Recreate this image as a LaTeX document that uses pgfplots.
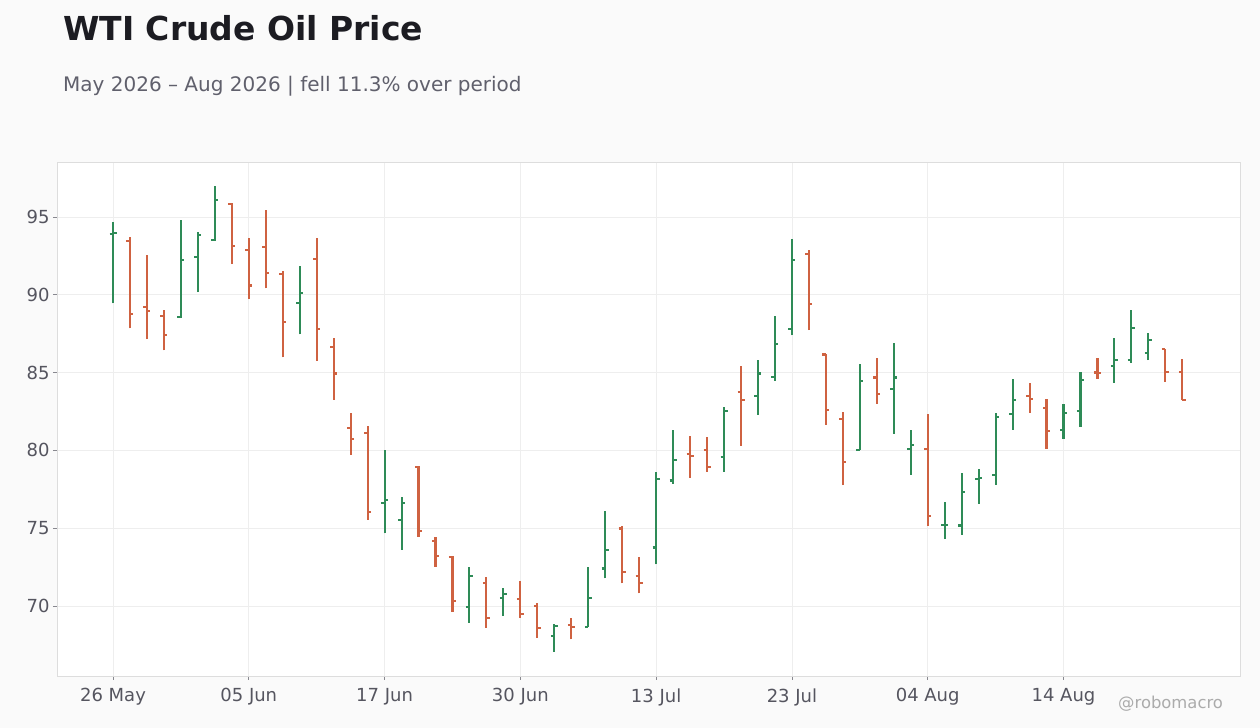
\documentclass[border=0pt]{standalone}
\usepackage{fontspec}
\setmainfont{DejaVu Sans}
\usepackage{pgfplots}
\usepackage{pgfplotstable}
\pgfplotsset{compat=1.18}

\definecolor{upcol}{HTML}{2E8B57}
\definecolor{downcol}{HTML}{CF6241}
\definecolor{titlecol}{HTML}{1C1C22}
\definecolor{subcol}{HTML}{60606C}
\definecolor{tickcol}{HTML}{55555F}
\definecolor{gridcol}{HTML}{EEEEEE}
\definecolor{framecol}{HTML}{DDDDDD}
\definecolor{bgcol}{HTML}{FAFAFA}

% open tick to the left, close tick to the right
\pgfdeclareplotmark{otick}{%
  \pgfpathmoveto{\pgfqpoint{-\pgfplotmarksize}{0pt}}%
  \pgfpathlineto{\pgfqpoint{0pt}{0pt}}%
  \pgfusepathqstroke}
\pgfdeclareplotmark{ctick}{%
  \pgfpathmoveto{\pgfqpoint{0pt}{0pt}}%
  \pgfpathlineto{\pgfqpoint{\pgfplotmarksize}{0pt}}%
  \pgfusepathqstroke}

% x = trading day index, o h l c
\pgfplotstableread{
x  o      h      l      c
0  93.88  94.70  89.45  93.95
4  88.55  94.83  88.49  92.21
5  92.45  94.06  90.16  93.82
6  93.50  97.01  93.48  96.07
11 89.44  91.87  87.45  90.09
16 76.63  80.02  74.66  76.82
17 75.55  77.00  73.62  76.64
21 69.94  72.51  68.93  71.95
23 70.54  71.13  69.38  70.79
26 68.09  68.84  67.07  68.73
28 68.63  72.52  68.63  70.49
29 72.41  76.11  71.77  73.57
32 73.76  78.61  72.67  78.18
33 78.06  81.30  77.86  79.40
36 79.59  82.78  78.63  82.54
38 83.51  85.82  82.28  84.94
39 84.74  88.66  84.48  86.85
40 87.78  93.58  87.39  92.24
44 80.00  85.56  80.00  84.48
46 83.97  86.92  81.06  84.68
47 80.11  81.30  78.44  80.36
49 75.19  76.69  74.29  75.22
50 75.17  78.55  74.59  77.35
51 78.15  78.80  76.58  78.20
52 78.44  82.39  77.80  82.16
53 82.35  84.57  81.32  83.25
56 81.32  82.97  80.75  82.41
57 82.54  85.02  81.52  84.53
59 85.43  87.20  84.34  85.81
60 85.79  89.00  85.62  87.86
61 86.28  87.52  85.79  87.09
}\updata

\pgfplotstableread{
x  o      h      l      c
1  93.44  93.74  87.84  88.74
2  89.19  92.58  87.14  88.94
3  88.61  89.04  86.43  87.39
7  95.81  95.92  91.96  93.11
8  92.86  93.67  89.71  90.59
9  93.05  95.47  90.41  91.37
10 91.31  91.55  85.97  88.22
12 92.27  93.67  85.77  87.77
13 86.67  87.23  83.26  84.94
14 81.46  82.40  79.72  80.75
15 81.14  81.57  75.54  76.05
18 78.93  78.97  74.45  74.84
19 74.20  74.43  72.53  73.23
20 73.17  73.21  69.64  70.32
22 71.50  71.86  68.61  69.23
24 70.47  71.61  69.25  69.51
25 70.02  70.19  67.97  68.61
27 68.76  69.25  67.86  68.63
30 74.98  75.13  71.45  72.16
31 71.90  73.16  70.81  71.45
34 79.79  80.92  78.25  79.66
35 80.04  80.85  78.63  78.95
37 83.77  85.43  80.28  83.23
41 92.63  92.87  87.72  89.40
42 86.16  86.21  81.64  82.59
43 82.03  82.46  77.76  79.25
45 84.68  85.95  83.00  83.64
48 80.11  82.33  75.17  75.81
54 83.50  84.32  82.41  83.31
55 82.74  83.29  80.11  81.26
58 85.00  85.92  84.59  84.96
62 86.52  86.54  84.40  85.06
63 85.04  85.85  83.23  83.25
}\downdata

\begin{document}
\begin{tikzpicture}[x=1bp,y=1bp]
% page = 1260 x 728 px, origin at the axis' lower left corner (57,676)
\fill[bgcol] (-57,-52) rectangle (1203,676);
\path[use as bounding box] (-57,-52) rectangle (1203,676);

\node[anchor=base west, inner sep=0pt, text=titlecol,
      font=\fontsize{33bp}{38bp}\selectfont\bfseries] at (6,635) {WTI Crude Oil Price};
\node[anchor=base west, inner sep=0pt, text=subcol,
      font=\fontsize{20bp}{24bp}\selectfont] at (6,584) {May 2026 – Aug 2026 | fell 11.3\% over period};

\begin{axis}[
    at={(0,0)}, anchor=south west,
    width=1183bp, height=514bp, scale only axis,
    xmin=-3.3, xmax=66.4,
    ymin=65.5, ymax=98.53,
    axis background/.style={fill=white},
    axis line style={framecol, line width=0.8bp},
    grid=major,
    major grid style={gridcol, line width=0.7bp},
    tick align=outside,
    major tick length=4bp,
    tick style={tickcol!70, line width=0.8bp},
    xtick={0,8,16,24,32,40,48,56},
    xticklabels={26 May, 05 Jun, 17 Jun, 30 Jun, 13 Jul, 23 Jul, 04 Aug, 14 Aug},
    ytick={70,75,80,85,90,95},
    xtick pos=bottom, ytick pos=left,
    /pgf/number format/assume math mode=true,
    ticklabel style={text=tickcol, font=\fontsize{18bp}{21bp}\selectfont},
    xticklabel style={yshift=-5bp},
    clip=false,
]
% high-low ranges
\addplot[upcol, line width=2.1bp, mark=none,
    quiver={u=0, v=\thisrow{h}-\thisrow{l}}]
  table[x=x, y=l] {\updata};
\addplot[downcol, line width=2.1bp, mark=none,
    quiver={u=0, v=\thisrow{h}-\thisrow{l}}]
  table[x=x, y=l] {\downdata};
% open and close ticks
\addplot[upcol, only marks, mark=otick, mark size=3.5bp, line width=2.1bp] table[x=x, y=o] {\updata};
\addplot[upcol, only marks, mark=ctick, mark size=3.5bp, line width=2.1bp] table[x=x, y=c] {\updata};
\addplot[downcol, only marks, mark=otick, mark size=3.5bp, line width=2.1bp] table[x=x, y=o] {\downdata};
\addplot[downcol, only marks, mark=ctick, mark size=3.5bp, line width=2.1bp] table[x=x, y=c] {\downdata};
\end{axis}

\node[anchor=base west, inner sep=0pt, text=black!33,
      font=\fontsize{16.4bp}{19bp}\selectfont] at (1061,-33) {@robomacro};
\end{tikzpicture}
\end{document}
